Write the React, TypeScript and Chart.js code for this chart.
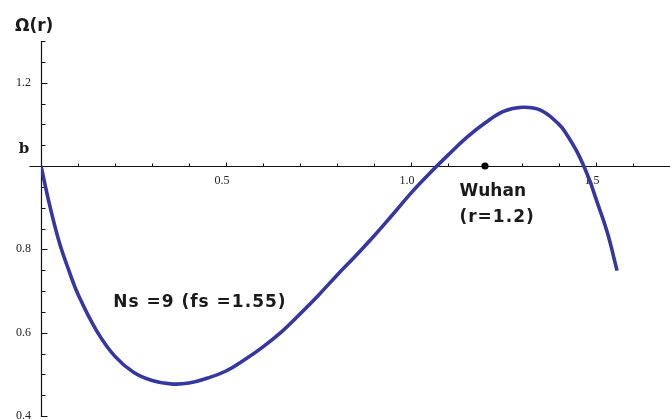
import React, { useEffect, useRef } from 'react';
import { Chart, registerables } from 'chart.js';

Chart.register(...registerables);

// Curve Ω(r)
const rValues = [0, 0.025, 0.05, 0.075, 0.1, 0.15, 0.2, 0.25, 0.3, 0.35, 0.4, 0.45, 0.5, 0.55, 0.6, 0.65, 0.7, 0.75, 0.8, 0.85, 0.9, 0.95, 1.0, 1.05, 1.1, 1.15, 1.2, 1.25, 1.3, 1.35, 1.4, 1.42, 1.45, 1.48, 1.5, 1.53, 1.557];
const omegaValues = [1.0, 0.9, 0.815, 0.75, 0.692, 0.605, 0.543, 0.505, 0.485, 0.477, 0.479, 0.491, 0.508, 0.535, 0.566, 0.602, 0.645, 0.69, 0.738, 0.784, 0.832, 0.883, 0.935, 0.982, 1.026, 1.068, 1.103, 1.131, 1.141, 1.134, 1.1, 1.077, 1.032, 0.972, 0.921, 0.842, 0.749];

// Marked point
const wuhanR = [1.2];
const wuhanOmega = [1.0];

// Axis ticks
const xMin = 0;
const xMax = 1.7;
const yMin = 0.4;
const yMax = 1.3;
const axisCross = 1.0;
const xTickValues = [0.5, 1.0, 1.5];
const xTickLabels = ['0.5', '1.0', '1.5'];
const xMinorTicks = [0.1, 0.2, 0.3, 0.4, 0.5, 0.6, 0.7, 0.8, 0.9, 1.0, 1.1, 1.2, 1.3, 1.4, 1.5, 1.6];
const yTickValues = [0.4, 0.6, 0.8, 1.2];
const yTickLabels = ['0.4', '0.6', '0.8', '1.2'];
const yMinorTicks = [0.4, 0.45, 0.5, 0.55, 0.6, 0.65, 0.7, 0.75, 0.8, 0.85, 0.9, 0.95, 1.0, 1.05, 1.1, 1.15, 1.2, 1.25, 1.3];
const yMajorTicks = [0.4, 0.6, 0.8, 1.0, 1.2];
const xMajorTicks = [0.5, 1.0, 1.5];

// Texts
const yAxisTitle = 'Ω(r)';
const crossLabel = 'b';
const pointLabel1 = 'Wuhan';
const pointLabel2 = '(r=1.2)';
const curveLabel = 'Ns =9 (fs =1.55)';

const round2 = (v: number) => Math.round(v * 100) / 100;

const axesPlugin = {
  id: 'mathAxes',
  beforeDatasetsDraw(chart: any) {
    const { ctx } = chart;
    const xs = chart.scales.x;
    const ys = chart.scales.y;
    const x0 = Math.round(xs.getPixelForValue(0)) + 0.5;
    const yAxisLine = Math.round(ys.getPixelForValue(axisCross)) + 0.5;
    ctx.save();
    ctx.strokeStyle = '#111';
    ctx.lineWidth = 1.2;
    ctx.beginPath();
    ctx.moveTo(x0 - 12, yAxisLine);
    ctx.lineTo(chart.width, yAxisLine);
    ctx.stroke();
    ctx.beginPath();
    ctx.moveTo(x0, ys.getPixelForValue(yMax));
    ctx.lineTo(x0, ys.getPixelForValue(yMin) + 1);
    ctx.stroke();
    ctx.lineWidth = 1;
    xMinorTicks.forEach((v) => {
      const px = Math.round(xs.getPixelForValue(v)) + 0.5;
      const len = xMajorTicks.some((m) => Math.abs(m - v) < 1e-6) ? 4 : 3;
      ctx.beginPath();
      ctx.moveTo(px, yAxisLine);
      ctx.lineTo(px, yAxisLine - len);
      ctx.stroke();
    });
    yMinorTicks.forEach((v) => {
      const py = Math.round(ys.getPixelForValue(v)) + 0.5;
      const len = yMajorTicks.some((m) => Math.abs(m - v) < 1e-6) ? 6 : 4;
      ctx.beginPath();
      ctx.moveTo(x0, py);
      ctx.lineTo(x0 + len, py);
      ctx.stroke();
    });
    ctx.restore();
  },
  afterDatasetsDraw(chart: any) {
    const { ctx } = chart;
    const xs = chart.scales.x;
    const ys = chart.scales.y;
    ctx.save();
    ctx.fillStyle = '#1a1a1a';
    ctx.textBaseline = 'middle';
    ctx.textAlign = 'left';
    ctx.font = 'bold 17px "DejaVu Sans"';
    ctx.fillText(yAxisTitle, xs.getPixelForValue(0) - 26, ys.getPixelForValue(1.334));
    ctx.textAlign = 'center';
    ctx.font = 'bold 15px "DejaVu Serif"';
    ctx.fillText(crossLabel, xs.getPixelForValue(0) - 17, ys.getPixelForValue(1.04));
    ctx.textAlign = 'left';
    ctx.font = 'bold 17px "DejaVu Sans"';
    ctx.letterSpacing = '0px';
    ctx.fillText(pointLabel1, xs.getPixelForValue(1.131), ys.getPixelForValue(0.938));
    ctx.letterSpacing = '1px';
    ctx.fillText(pointLabel2, xs.getPixelForValue(1.131), ys.getPixelForValue(0.876));
    ctx.fillText(curveLabel, xs.getPixelForValue(0.195), ys.getPixelForValue(0.673));
    ctx.restore();
  },
};

export default function App() {
  const canvasRef = useRef<HTMLCanvasElement | null>(null);

  useEffect(() => {
    if (!canvasRef.current) return;
    const curve = rValues.map((r, i) => ({ x: r, y: omegaValues[i] }));
    const point = wuhanR.map((r, i) => ({ x: r, y: wuhanOmega[i] }));
    const chart = new Chart(canvasRef.current, {
      type: 'line',
      data: {
        datasets: [
          {
            data: curve,
            borderColor: '#3636a0',
            borderWidth: 3.6,
            pointRadius: 0,
            fill: false,
            tension: 0.4,
            borderJoinStyle: 'round',
          },
          {
            data: point,
            showLine: false,
            pointRadius: 3.6,
            pointBackgroundColor: '#000',
            pointBorderColor: '#000',
            pointBorderWidth: 0,
          },
        ],
      } as any,
      options: {
        animation: false,
        responsive: true,
        maintainAspectRatio: false,
        layout: { autoPadding: false, padding: { top: 41, bottom: 3, left: 0, right: 0 } },
        plugins: {
          legend: { display: false },
          tooltip: { enabled: false },
          title: { display: false },
        },
        scales: {
          x: {
            type: 'linear',
            min: xMin,
            max: xMax,
            position: { y: axisCross } as any,
            afterFit: (s: any) => {
              s.height = 0;
              s.paddingLeft = 0;
              s.paddingRight = 0;
              s.paddingTop = 0;
              s.paddingBottom = 0;
            },
            grid: { display: false, drawTicks: false },
            border: { display: false },
            ticks: {
              stepSize: 0.5,
              autoSkip: false,
              maxRotation: 0,
              padding: 8,
              labelOffset: -4,
              color: '#222',
              font: { family: '"Liberation Serif"', size: 12 },
              callback: (v: any) => {
                const i = xTickValues.findIndex((t) => Math.abs(t - round2(Number(v))) < 1e-6);
                return i >= 0 ? xTickLabels[i] : '';
              },
            },
          },
          y: {
            type: 'linear',
            min: yMin,
            max: yMax,
            position: 'left',
            afterFit: (s: any) => {
              s.width = 41;
              s.paddingTop = 0;
              s.paddingBottom = 0;
            },
            grid: { display: false, drawTicks: false },
            border: { display: false },
            ticks: {
              stepSize: 0.2,
              autoSkip: false,
              padding: 10,
              color: '#222',
              font: { family: '"Liberation Serif"', size: 12 },
              callback: (v: any) => {
                const i = yTickValues.findIndex((t) => Math.abs(t - round2(Number(v))) < 1e-6);
                return i >= 0 ? yTickLabels[i] : '';
              },
            },
          },
        },
      },
      plugins: [axesPlugin],
    });
    return () => chart.destroy();
  }, []);

  return (
    <div style={{ position: 'fixed', left: 0, top: 0, width: 670, height: 419, background: '#fff' }}>
      <canvas ref={canvasRef} />
    </div>
  );
}
